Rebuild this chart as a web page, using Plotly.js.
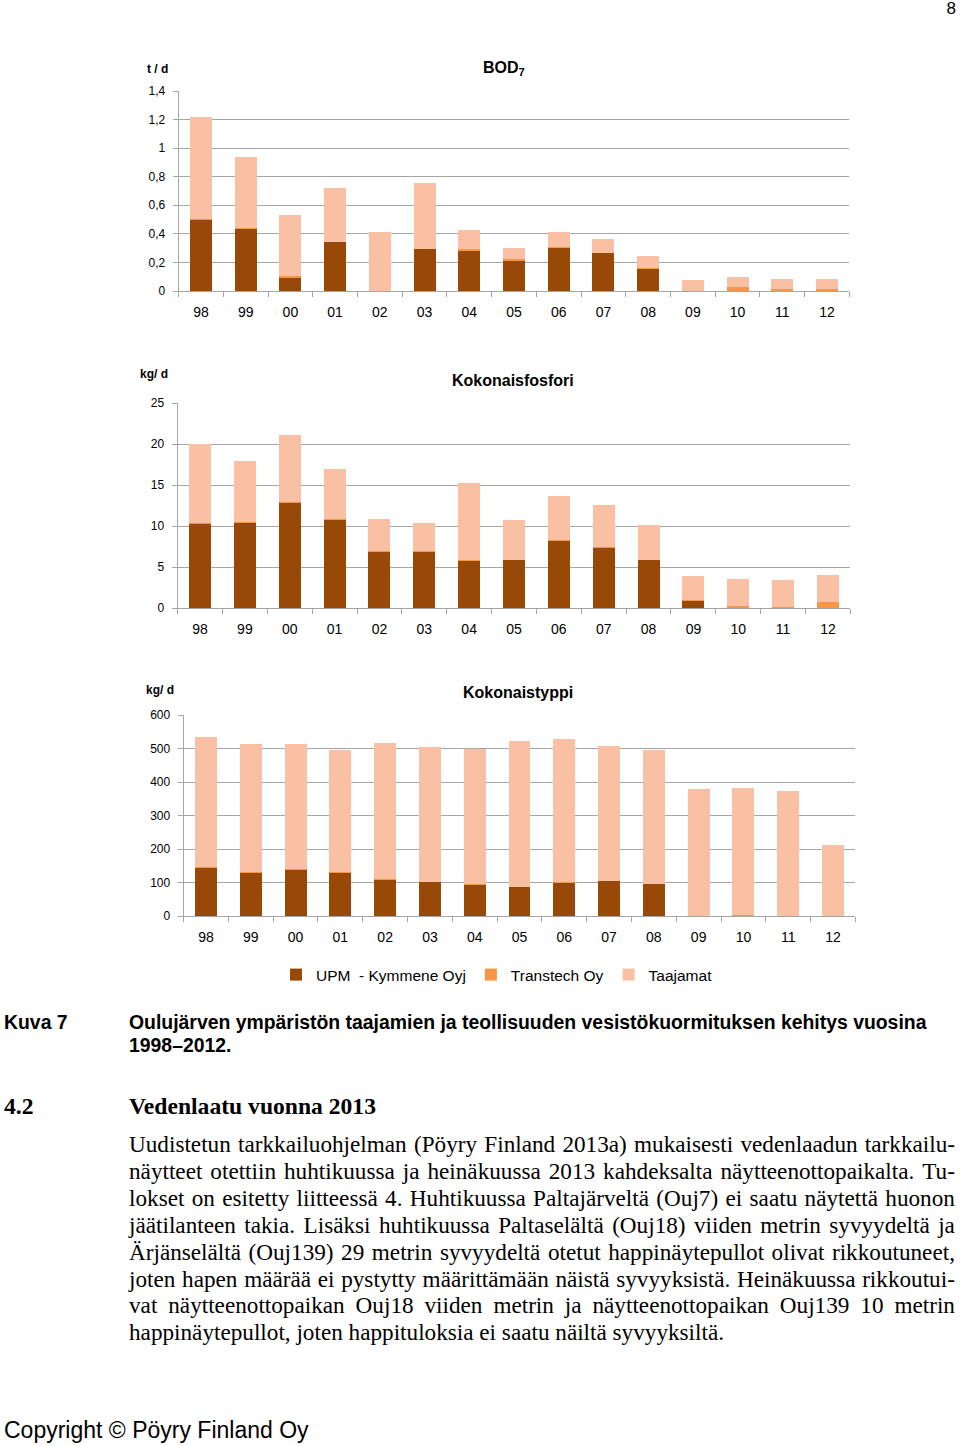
<!DOCTYPE html>
<html>
<head>
<meta charset="utf-8">
<script src="https://cdn.plot.ly/plotly-2.35.2.min.js"></script>
<style>
  html, body { margin: 0; padding: 0; background: #fff; }
  #page { position: relative; width: 960px; height: 1446px; overflow: hidden; background: #fff; }
  #chart { position: absolute; left: 0; top: 0; width: 960px; height: 1000px; }
  .sans { font-family: "Liberation Sans", Arial, sans-serif; color: #000; }
  .serif { font-family: "Liberation Serif", "Times New Roman", serif; color: #000; }
  .abs { position: absolute; white-space: nowrap; }
  .jline { position: absolute; left: 129px; width: 826px; display: flex; justify-content: space-between; white-space: nowrap; font-size: 23.2px; line-height: 27px; }
  .lline { position: absolute; left: 129px; white-space: nowrap; font-size: 23.2px; line-height: 27px; }
</style>
</head>
<body>
<div id="page">
  <div id="chart"></div>
  <div class="abs sans" style="right:4px; top:0px; font-size:17px; line-height:18px;">8</div>
  <div class="abs sans" style="left:4px; top:1011px; font-size:19.4px; line-height:23px; font-weight:bold;">Kuva 7</div>
  <div class="abs sans" style="left:129px; top:1011px; font-size:19.4px; line-height:23px; font-weight:bold;">Oulujärven ympäristön taajamien ja teollisuuden vesistökuormituksen kehitys vuosina<br>1998–2012.</div>
  <div class="abs serif" style="left:4px; top:1092px; font-size:23.6px; line-height:28px; font-weight:bold;">4.2</div>
  <div class="abs serif" style="left:129px; top:1092px; font-size:23.6px; line-height:28px; font-weight:bold;">Vedenlaatu vuonna 2013</div>
  <div id="body"></div>
  <div class="abs sans" style="left:4px; top:1416px; font-size:23px; line-height:28px;">Copyright © Pöyry Finland Oy</div>
</div>
<script>
// ---- data ----
const years = ['98','99','00','01','02','03','04','05','06','07','08','09','10','11','12'];

const bodUPM   = [0.50, 0.433, 0.091, 0.34, 0, 0.295, 0.283, 0.21, 0.302, 0.265, 0.155, 0, 0, 0, 0];
const bodTrans = [0.003, 0.005, 0.014, 0.003, 0, 0.002, 0.012, 0.012, 0.004, 0.003, 0.007, 0.002, 0.026, 0.012, 0.012];
const bodTaaj  = [0.717, 0.502, 0.425, 0.377, 0.41, 0.457, 0.135, 0.078, 0.109, 0.095, 0.084, 0.073, 0.07, 0.07, 0.072];

const pUPM   = [10.26, 10.42, 12.78, 10.79, 6.88, 6.88, 5.78, 5.82, 8.18, 7.37, 5.86, 0.9, 0, 0, 0];
const pTrans = [0.05, 0.08, 0.17, 0.05, 0.03, 0.03, 0.03, 0.03, 0.09, 0.03, 0.03, 0.12, 0.2, 0.08, 0.73];
const pTaaj  = [9.69, 7.46, 8.18, 6.06, 3.96, 3.51, 9.42, 4.90, 5.33, 5.18, 4.21, 2.89, 3.34, 3.30, 3.26];

const nUPM   = [142, 127, 136, 129, 108, 102, 94, 87, 100, 104, 96, 0, 0, 0, 0];
const nTrans = [4, 4, 3, 2, 1, 1, 1, 1, 1, 1, 1, 1, 4, 1, 1];
const nTaaj  = [387, 381, 374, 364, 408, 402, 405, 434, 427, 403, 398, 377, 378, 371, 211];

const seriesNames = ['UPM  - Kymmene Oyj', 'Transtech Oy', 'Taajamat'];
const chartTitles = ['<b>BOD<sub>7</sub></b>', '<b>Kokonaisfosfori</b>', '<b>Kokonaistyppi</b>'];
const unitLabels = ['<b>t / d</b>', '<b>kg/ d</b>', '<b>kg/ d</b>'];

// ---- styles ----
const colors = ['#984807', '#F79646', '#F9C0A4'];
const FONT = '"Liberation Sans", Arial, sans-serif';
const GRID = '#a6a6a6';
const H = 1000, W = 960;

const groups = [
  {vals: [bodUPM, bodTrans, bodTaaj], x: 'x',  y: 'y'},
  {vals: [pUPM, pTrans, pTaaj],       x: 'x2', y: 'y2'},
  {vals: [nUPM, nTrans, nTaaj],       x: 'x3', y: 'y3'}
];

const traces = [];
groups.forEach((g, gi) => {
  g.vals.forEach((v, si) => {
    traces.push({
      type: 'bar', x: years, y: v, name: seriesNames[si],
      xaxis: g.x, yaxis: g.y,
      marker: {color: colors[si], line: {width: 0}},
      showlegend: gi === 2,
      hoverinfo: 'x+y+name'
    });
  });
});

function px(v) { return v / W; }
function py(v) { return 1 - v / H; }

function xax(l, r, anchor) {
  return {
    domain: [px(l), px(r)], anchor: anchor, type: 'category',
    showline: true, linecolor: GRID, linewidth: 1,
    ticks: 'outside', tickson: 'boundaries', ticklen: 5, tickcolor: GRID, tickwidth: 1,
    showgrid: false, zeroline: false, fixedrange: true,
    tickfont: {family: FONT, size: 14, color: '#000'}, ticklabelstandoff: 8
  };
}
function yax(top, bottom, range, dtick, anchor) {
  return {
    domain: [py(bottom), py(top)], anchor: anchor, range: range, dtick: dtick,
    showline: true, linecolor: GRID, linewidth: 1,
    ticks: 'outside', ticklen: 5, tickcolor: GRID, tickwidth: 1,
    showgrid: true, gridcolor: GRID, gridwidth: 1, zeroline: false, fixedrange: true,
    tickfont: {family: FONT, size: 12, color: '#000'}, ticklabelstandoff: 5
  };
}

const ann = [];
const titlePos = [[504, 68], [513, 380], [518, 692]];
const unitPos = [[157.5, 69], [154, 374], [160.4, 690]];
for (let i = 0; i < 3; i++) {
  ann.push({xref: 'paper', yref: 'paper', x: px(titlePos[i][0]), y: py(titlePos[i][1]),
    xanchor: 'center', yanchor: 'middle', showarrow: false, text: chartTitles[i],
    font: {family: FONT, size: 16, color: '#000'}});
  ann.push({xref: 'paper', yref: 'paper', x: px(unitPos[i][0]), y: py(unitPos[i][1]),
    xanchor: 'center', yanchor: 'middle', showarrow: false, text: unitLabels[i],
    font: {family: FONT, size: 12, color: '#000'}});
}

const layout = {
  width: W, height: H, margin: {l: 0, r: 0, t: 0, b: 0},
  paper_bgcolor: '#fff', plot_bgcolor: '#fff',
  barmode: 'stack', bargap: 0.51, separators: ', ',
  font: {family: FONT, color: '#000'},
  xaxis: xax(178.6, 849.4, 'y'),
  yaxis: yax(91, 291, [0, 1.4], 0.2, 'x'),
  xaxis2: xax(177.6, 850.4, 'y2'),
  yaxis2: yax(403, 608, [0, 25], 5, 'x2'),
  xaxis3: xax(183.6, 855.4, 'y3'),
  yaxis3: yax(715, 916, [0, 600], 100, 'x3'),
  showlegend: true,
  legend: {orientation: 'h', x: px(497), y: py(975), xanchor: 'center', yanchor: 'middle',
    font: {family: FONT, size: 15.5, color: '#000'}, traceorder: 'normal', itemwidth: 30,
    bgcolor: 'rgba(0,0,0,0)'},
  annotations: ann
};

Plotly.newPlot('chart', traces, layout, {displayModeBar: false, staticPlot: true});

// ---- body text ----
const bodyLines = [
  'Uudistetun tarkkailuohjelman (Pöyry Finland 2013a) mukaisesti vedenlaadun tarkkailu-',
  'näytteet otettiin huhtikuussa ja heinäkuussa 2013 kahdeksalta näytteenottopaikalta. Tu-',
  'lokset on esitetty liitteessä 4. Huhtikuussa Paltajärveltä (Ouj7) ei saatu näytettä huonon',
  'jäätilanteen takia. Lisäksi huhtikuussa Paltaselältä (Ouj18) viiden metrin syvyydeltä ja',
  'Ärjänselältä (Ouj139) 29 metrin syvyydeltä otetut happinäytepullot olivat rikkoutuneet,',
  'joten hapen määrää ei pystytty määrittämään näistä syvyyksistä. Heinäkuussa rikkoutui-',
  'vat näytteenottopaikan Ouj18 viiden metrin ja näytteenottopaikan Ouj139 10 metrin',
  'happinäytepullot, joten happituloksia ei saatu näiltä syvyyksiltä.'
];
const body = document.getElementById('body');
bodyLines.forEach((line, i) => {
  const d = document.createElement('div');
  const last = i === bodyLines.length - 1;
  d.className = 'serif ' + (last ? 'lline' : 'jline');
  d.style.top = (1131 + i * 26.9) + 'px';
  if (last) {
    d.textContent = line;
  } else {
    line.split(' ').forEach(w => {
      const s = document.createElement('span');
      s.textContent = w;
      d.appendChild(s);
    });
  }
  body.appendChild(d);
});
</script>
</body>
</html>
